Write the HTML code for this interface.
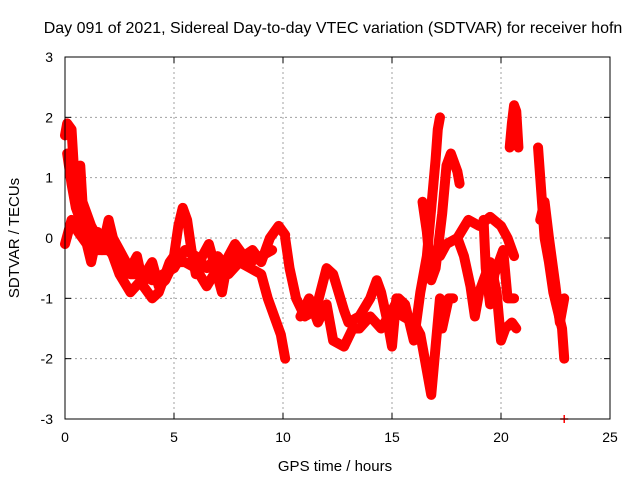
<!DOCTYPE html>
<html><head><meta charset="utf-8"><style>
body{margin:0;background:#fff;}
svg text{font-family:"Liberation Sans",sans-serif;font-size:14px;fill:#000;}
</style></head><body>
<svg id="chart" width="640" height="480" viewBox="0 0 640 480" xmlns="http://www.w3.org/2000/svg">
<text x="333" y="33" text-anchor="middle" style="font-size:16px">Day 091 of 2021, Sidereal Day-to-day VTEC variation (SDTVAR) for receiver hofn</text>
<text x="335" y="471" text-anchor="middle" style="font-size:15px">GPS time / hours</text>
<text transform="translate(19,238) rotate(-90)" text-anchor="middle" style="font-size:15px">SDTVAR / TECUs</text>
<g id="grid"></g>
<g id="ticks"></g>
<g id="marks"></g>
<rect x="65" y="57" width="545" height="362" fill="none" stroke="#000" stroke-width="1"/>
</svg>
<script>
const xTicks=[0,5,10,15,20,25];
const yTicks=[-3,-2,-1,0,1,2,3];
const trackMain=[[0,1.7],[0.1,1.9],[0.3,1.8],[0.4,1.2],[0.5,0.9],[0.7,1.2],[0.8,0.6],[1.0,0.4],[1.2,0.2],[1.5,0.0],[1.7,-0.2],[2.0,0.3],[2.2,0.0],[2.5,-0.2],[2.8,-0.4],[3.0,-0.5],[3.3,-0.3],[3.6,-0.8],[4.0,-1.0],[4.3,-0.9],[4.5,-0.7],[4.8,-0.4],[5.0,-0.3],[5.2,0.2],[5.4,0.5],[5.6,0.3],[5.8,-0.2],[6.0,-0.6],[6.3,-0.3],[6.6,-0.1],[6.9,-0.5],[7.2,-0.9],[7.5,-0.3],[7.8,-0.1],[8.2,-0.3],[8.6,-0.2],[9.0,-0.4],[9.4,0.0],[9.6,0.1],[9.8,0.2],[10.1,0.05]];
const trackBand=[[0.1,1.4],[0.3,0.9],[0.5,0.5],[0.8,0.2],[1.1,0.0],[1.5,-0.2],[2.0,-0.2],[2.5,-0.4],[3.0,-0.6],[3.5,-0.6],[4.0,-0.7],[4.5,-0.6],[5.0,-0.5],[5.5,-0.2],[6.0,-0.3],[6.5,-0.5],[7.0,-0.3],[7.5,-0.5],[8.0,-0.3],[8.5,-0.4],[9.0,-0.3],[9.5,-0.2]];
const trackLow=[[0,-0.1],[0.3,0.3],[0.6,0.1],[1.0,-0.1],[1.2,-0.4],[1.5,0.1],[2.0,-0.1],[2.5,-0.6],[3.0,-0.9],[3.5,-0.7],[4.0,-0.4],[4.3,-0.8],[4.6,-0.7],[5.0,-0.4],[5.5,-0.4],[6.0,-0.5],[6.5,-0.8],[7.0,-0.5],[7.5,-0.6],[8.0,-0.4],[8.5,-0.5],[9.0,-0.6],[9.3,-1.0],[9.6,-1.3],[9.9,-1.6],[10.1,-2.0]];
const trackMid=[[10.1,0.0],[10.3,-0.5],[10.6,-1.0],[11.0,-1.3],[11.5,-1.2],[12.0,-0.5],[12.3,-0.6],[12.8,-1.2],[13.0,-1.4],[13.5,-1.3],[14.0,-1.0],[14.3,-0.7],[14.5,-0.9],[14.8,-1.4],[15.0,-1.8],[15.2,-1.0],[15.5,-1.3],[16.0,-1.4],[16.3,-1.6],[16.5,-2.0],[16.8,-2.6],[17.0,-1.8],[17.2,-1.0],[17.3,-1.5],[17.6,-1.0],[17.8,-1.0]];
const trackMid2=[[10.8,-1.3],[11.2,-1.0],[11.6,-1.4],[12.0,-1.1],[12.3,-1.7],[12.8,-1.8],[13.2,-1.5],[13.5,-1.5],[14.0,-1.3],[14.5,-1.5],[15.0,-1.2],[15.3,-1.0],[15.6,-1.1],[16.0,-1.7],[16.3,-0.9],[16.6,-0.3],[16.8,0.5],[17.0,1.3],[17.1,1.8],[17.2,2.0]];
const trackPeak=[[16.4,0.6],[16.6,0.1],[16.8,-0.7],[17.0,-0.5],[17.3,0.4],[17.5,1.2],[17.7,1.4],[18.0,1.1],[18.1,0.9]];
const trackUpper=[[17.2,-0.3],[17.5,-0.1],[18.0,0.0],[18.5,0.3],[19.0,0.2],[19.5,0.35],[20.0,0.2],[20.3,0.0],[20.6,-0.3]];
const trackLower=[[18.0,0.0],[18.3,-0.3],[18.6,-0.8],[18.8,-1.3],[19.0,-0.9],[19.5,-0.4],[19.8,-0.9],[20.0,-1.7],[20.2,-1.5],[20.5,-1.4],[20.7,-1.5]];
const trackStreak=[[19.2,0.3],[19.3,-0.5],[19.5,-1.1],[19.7,-0.6],[20.1,-0.2],[20.3,-1.0],[20.6,-1.0]];
const trackTop=[[20.4,1.5],[20.5,1.9],[20.6,2.2],[20.7,2.1],[20.8,1.5]];
const trackEnd=[[21.7,1.5],[21.8,1.0],[21.9,0.5],[22.0,0.0],[22.2,-0.4],[22.4,-0.9],[22.6,-1.2],[22.8,-1.5],[22.9,-2.0]];
const trackEnd2=[[21.8,0.3],[22.0,0.6],[22.2,0.0],[22.5,-0.8],[22.7,-1.4],[22.9,-1.0]];
const trackOutlier=[[22.9,-3.0]];
const tracks=[trackMain,trackBand,trackLow,trackMid,trackMid2,trackPeak,trackUpper,trackLower,trackStreak,trackTop,trackEnd,trackEnd2,trackOutlier];

const NS="http://www.w3.org/2000/svg";
const X0=65,X1=610,Y0=419,Y1=57;
function xs(t){return X0+(t-0)/(25-0)*(X1-X0);}
function ys(v){return Y0-(v+3)/6*(Y0-Y1);}
const grid=document.getElementById('grid'),ticks=document.getElementById('ticks'),marks=document.getElementById('marks');
function mk(tag,attrs,parent){const e=document.createElementNS(NS,tag);for(const k in attrs)e.setAttribute(k,attrs[k]);parent.appendChild(e);return e;}
xTicks.forEach(t=>{
  const x=xs(t);
  if(t>0&&t<25){const g=mk('line',{x1:x,x2:x,y1:Y1,y2:Y0,stroke:'#a0a0a0','stroke-dasharray':'2,3'},grid);
  
  }
  mk('line',{x1:x,x2:x,y1:Y0,y2:Y0-6,stroke:'#000'},ticks);
  mk('line',{x1:x,x2:x,y1:Y1,y2:Y1+6,stroke:'#000'},ticks);
  const l=mk('text',{x:x,y:Y0+23,'text-anchor':'middle'},ticks);l.textContent=t;
  
  
});
yTicks.forEach(v=>{
  const y=ys(v);
  if(v>-3&&v<3){const g=mk('line',{x1:X0,x2:X1,y1:y,y2:y,stroke:'#a0a0a0','stroke-dasharray':'2,3'},grid);
  
  }
  mk('line',{x1:X0,x2:X0+6,y1:y,y2:y,stroke:'#000'},ticks);
  mk('line',{x1:X1,x2:X1-6,y1:y,y2:y,stroke:'#000'},ticks);
  const l=mk('text',{x:X0-12,y:y+5,'text-anchor':'end'},ticks);l.textContent=v;
  
  
});
tracks.forEach(tr=>{
  if(tr.length>1){
    const p=mk('polyline',{points:tr.map(d=>xs(d[0])+','+ys(d[1])).join(' '),fill:'none',stroke:'#ff0000','stroke-width':10,'stroke-linejoin':'round','stroke-linecap':'round'},marks);
    
    
  }
  tr.forEach(d=>{
    const x=xs(d[0]),y=ys(d[1]);
    const m=mk('path',{d:`M${x-4},${y}H${x+4}M${x},${y-4}V${y+4}`,stroke:'#ff0000','stroke-width':1.5},marks);
    
    
  });
});
</script>
</body></html>
